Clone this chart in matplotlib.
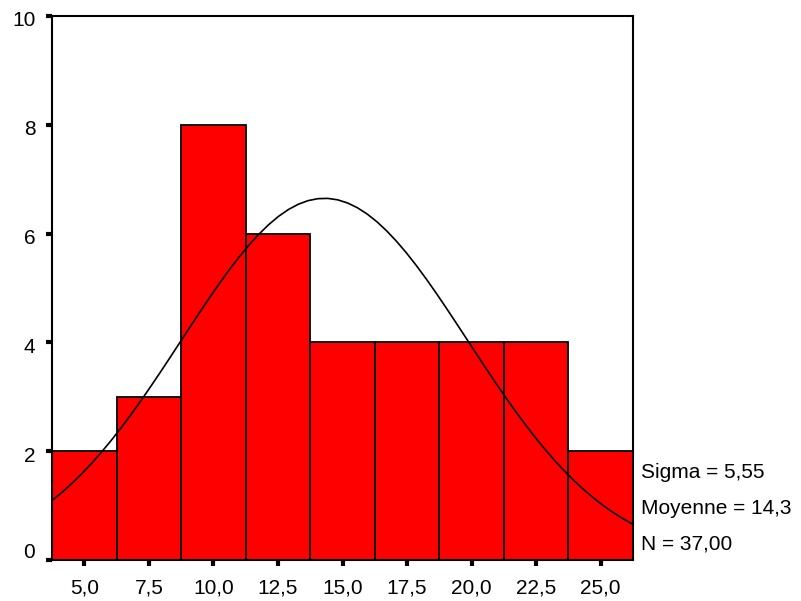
import numpy as np
import matplotlib.pyplot as plt
from matplotlib.transforms import ScaledTranslation


plt.rcParams.update({'font.family': ['Liberation Sans', 'DejaVu Sans'], 'font.size': 15})


bin_centers = [5.0, 7.5, 10.0, 12.5, 15.0, 17.5, 20.0, 22.5, 25.0]
counts = [2, 3, 8, 6, 4, 4, 4, 4, 2]
bin_width = 2.5
sigma = 5.55
mean = 14.3
n = 37
x_labels = ['5,0', '7,5', '10,0', '12,5', '15,0', '17,5', '20,0', '22,5', '25,0']
y_ticks = [0, 2, 4, 6, 8, 10]
stats_lines = ['Sigma = 5,55', 'Moyenne = 14,3', 'N = 37,00']


def normal_curve(lo, hi):
	x = np.linspace(lo, hi, 60)
	y = n * bin_width / (sigma * np.sqrt(2 * np.pi)) * np.exp(-0.5 * ((x - mean) / sigma) ** 2)
	return x, y


fig = plt.figure(figsize=(8.01, 6.01), dpi=100)
axis = fig.add_axes([52 / 801, 41 / 601, 581 / 801, 544 / 601])

axis.bar(bin_centers, counts, width=bin_width, color='#ff0000', edgecolor='black', linewidth=1.3)
lo = bin_centers[0] - bin_width / 2
hi = bin_centers[-1] + bin_width / 2
cx, cy = normal_curve(lo, hi)
axis.plot(cx, cy, color='black', linewidth=1.2)

axis.set_xlim(lo, hi)
axis.set_ylim(0, 10)
axis.set_xticks(bin_centers)
axis.set_xticklabels(x_labels)
axis.set_yticks(y_ticks)
axis.tick_params(axis='both', direction='out', length=4, width=3, labelsize=15)
axis.tick_params(axis='x', pad=9)
axis.tick_params(axis='y', pad=8)
for spine in axis.spines.values():
	spine.set_linewidth(1.5)

# y labels sit a bit below their ticks, the 0 label is lifted up (SPSS style)
for val, lab in zip(y_ticks, axis.get_yticklabels()):
	dy = 9 if val == 0 else -3
	lab.set_transform(lab.get_transform() + ScaledTranslation(0, dy / 100, fig.dpi_scale_trans))

for i, line in enumerate(stats_lines):
	fig.text(641 / 801, 1 - (472 + 36 * i) / 601, line, fontsize=15, va='center', ha='left')

fig.savefig('out.png', dpi=100)
